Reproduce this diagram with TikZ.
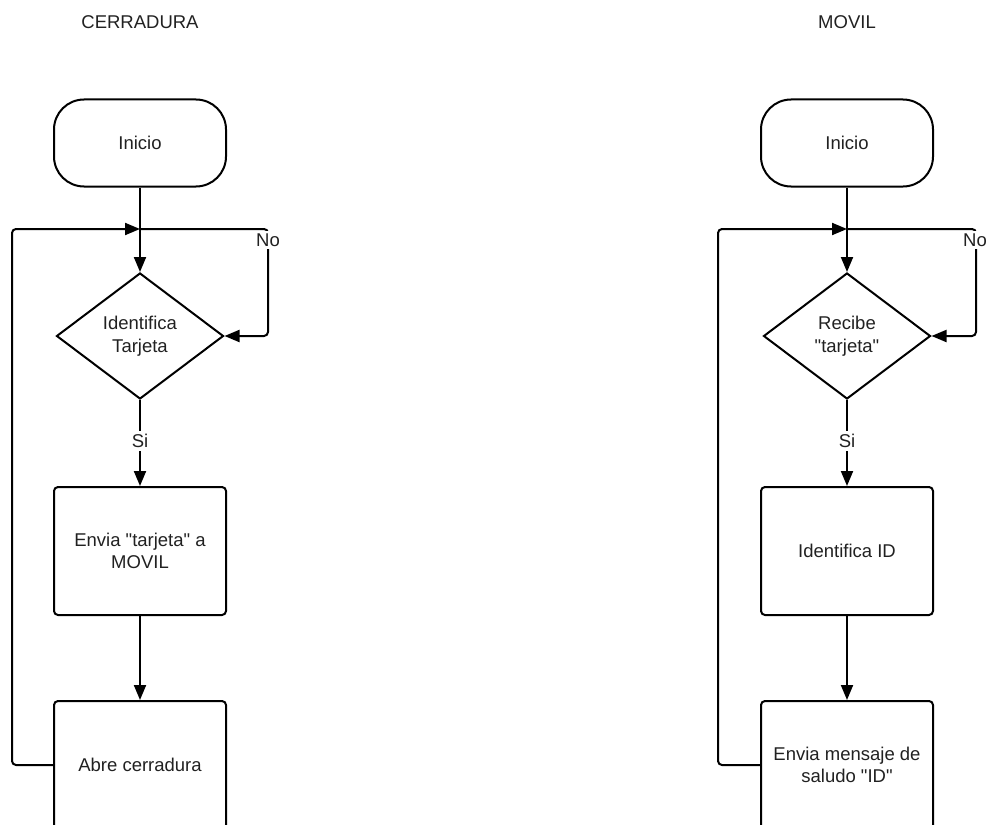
\documentclass[tikz,border=0pt]{standalone}
\usepackage{fontspec}
\setmainfont{Liberation Sans}[Ligatures=TeXOff]
\usetikzlibrary{shapes.geometric,arrows.meta}
\begin{document}
\begin{tikzpicture}[x=1pt,y=-1pt,
  every node/.style={font=\fontsize{18.5}{22.5}\selectfont, text=black!87},
  term/.style={draw, line width=2pt, rounded corners=30pt, minimum width=172pt, minimum height=87pt, inner sep=0pt},
  proc/.style={draw, line width=2pt, rounded corners=4pt, minimum width=172pt, minimum height=128pt, align=center},
  dec/.style={draw, diamond, line width=2pt, minimum width=167pt, minimum height=126pt, inner sep=0pt, align=center},
  lbl/.style={fill=white, inner xsep=1pt, inner ysep=3pt},
  conn/.style={line width=2pt, -{Triangle[length=15pt,width=12pt]}},
]
\useasboundingbox (0,0) rectangle (987,824);
\clip (0,0) rectangle (987,824);

% ---------- CERRADURA ----------
\node (t1) at (140,22) {CERRADURA};
\node[term] (s1) at (140,143) {Inicio};
\coordinate (j1) at (140,229);
\node[dec] (d1) at (140,336) {Identifica\\Tarjeta};
\node[proc] (p1) at (140,551) {Envia "tarjeta" a\\MOVIL};
\node[proc] (p2) at (140,765) {Abre cerradura};

\draw[conn] (s1) -- (d1);
\draw[conn] (d1) -- node[lbl, pos=0.48] (si1) {Si} (p1);
\draw[conn] (p1) -- (p2);
\draw[conn, rounded corners=4pt] (p2.west) -- (12,765) |- (j1);
\draw[conn, rounded corners=4pt] (j1) -| (268,336) -- (d1.east);
\node[lbl] (no1) at (268,240) {No};

% ---------- MOVIL ----------
\node (t2) at (847,22) {MOVIL};
\node[term] (s2) at (847,143) {Inicio};
\coordinate (j2) at (847,229);
\node[dec] (d2) at (847,336) {Recibe\\"tarjeta"};
\node[proc] (p3) at (847,551) {Identifica ID};
\node[proc] (p4) at (847,765) {Envia mensaje de\\saludo "ID"};

\draw[conn] (s2) -- (d2);
\draw[conn] (d2) -- node[lbl, pos=0.48] (si2) {Si} (p3);
\draw[conn] (p3) -- (p4);
\draw[conn, rounded corners=4pt] (p4.west) -- (718,765) |- (j2);
\draw[conn, rounded corners=4pt] (j2) -| (976,336) -- (d2.east);
\node[lbl] (no2) at (975,240) {No};
\end{tikzpicture}
\end{document}
